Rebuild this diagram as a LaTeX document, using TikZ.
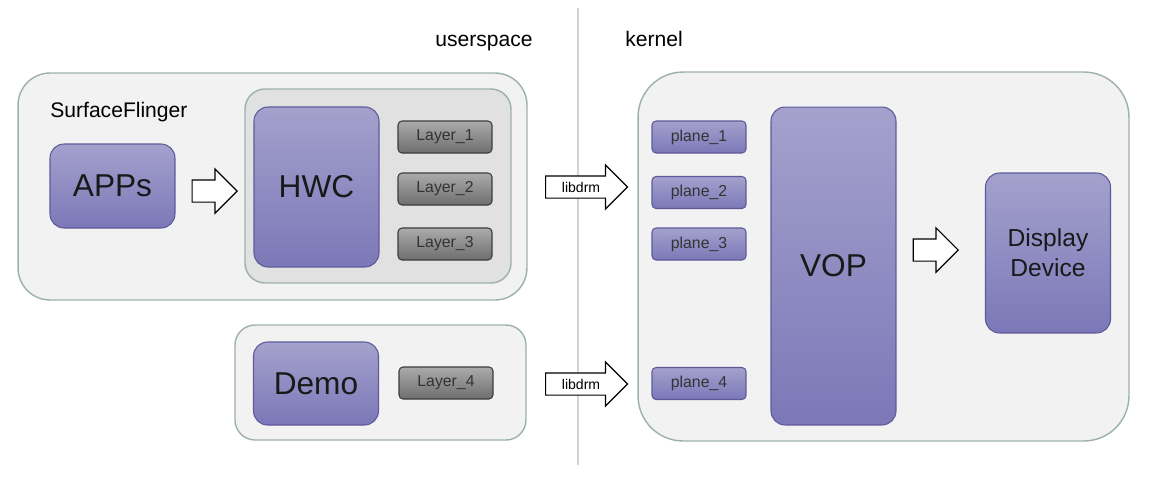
\documentclass[tikz,border=0pt]{standalone}
\usepackage{fontspec}
\setmainfont{Liberation Sans}
\usetikzlibrary{positioning, calc, shapes.arrows}

\definecolor{boxfill}{HTML}{F2F2F2}
\definecolor{boxline}{HTML}{9DB0AE}
\definecolor{groupfill}{HTML}{E1E1E1}
\definecolor{purptop}{HTML}{A4A1CD}
\definecolor{purpbot}{HTML}{7C78B8}
\definecolor{purpline}{HTML}{5E5A9A}
\definecolor{layertop}{HTML}{ABABAB}
\definecolor{layerbot}{HTML}{6E6E6E}
\definecolor{layerline}{HTML}{3C3C3C}
\definecolor{divline}{HTML}{D4D4D4}

\begin{document}
\begin{tikzpicture}[
    x=0.02cm, y=-0.02cm,
    % Container styles
    containerbox/.style={rectangle, draw=boxline, fill=boxfill, line width=0.8pt},
    groupbox/.style={rectangle, draw=boxline, fill=groupfill, line width=0.8pt, rounded corners=0.4cm},
    % Block styles
    unitbox/.style={rectangle, draw=purpline, top color=purptop, bottom color=purpbot, line width=0.6pt, rounded corners=0.28cm, minimum width=2.5cm, text=black!90, font=\fontsize{18}{20}\selectfont},
    layerbox/.style={rectangle, draw=layerline, top color=layertop, bottom color=layerbot, line width=0.6pt, rounded corners=0.08cm, minimum width=1.88cm, minimum height=0.64cm, inner sep=0pt, text=black!80, font=\fontsize{9}{10}\selectfont},
    planebox/.style={layerbox, draw=purpline, top color=purptop, bottom color=purpbot},
    % Arrow & label styles
    hollowarrow/.style={single arrow, anchor=tail, draw=black, fill=white, line width=0.7pt, single arrow head extend=0.22cm, minimum height=0.9cm, inner xsep=0pt, inner ysep=0.21cm, font=\fontsize{8}{9}\selectfont},
    drmarrow/.style={hollowarrow, minimum height=1.64cm, inner ysep=0.1cm, text height=0.22cm, text depth=0cm},
    titletext/.style={anchor=base west, inner sep=0pt, font=\fontsize{12}{14}\selectfont}
]
    \useasboundingbox (0,0) rectangle (1170,478);

    % Divider between userspace and kernel
    \coordinate (divtop) at (578,8);
    \coordinate (divbot) at (578,465);
    \draw [divline, line width=0.6pt] (divtop) -- (divbot);
    \node [titletext] (userlabel) at (435,46) {userspace};
    \node [titletext] (kernellabel) at (625,46) {kernel};

    % Containers
    \node [containerbox, rounded corners=0.64cm, minimum width=10.18cm, minimum height=4.54cm] (sf) at (272.5,186.5) {};
    \node [groupbox, minimum width=5.32cm, minimum height=3.88cm] (hwcgroup) at (378,186) {};
    \node [containerbox, rounded corners=0.4cm, minimum width=5.82cm, minimum height=2.3cm] (demogroup) at (380.5,382.5) {};
    \node [containerbox, rounded corners=0.9cm, minimum width=9.82cm, minimum height=7.38cm] (kernelbox) at (883.5,256.5) {};
    \node [titletext] (sflabel) at (50,117) {SurfaceFlinger};

    % Userspace blocks
    \node [unitbox, minimum height=1.68cm] (apps) at (112.5,186) {APPs};
    \node [unitbox, minimum height=3.2cm] (hwc) at (316.5,187) {HWC};
    \node [layerbox] (layer1) at (445,137) {Layer\_1};
    \node [layerbox] (layer2) at (445,189) {Layer\_2};
    \node [layerbox] (layer3) at (445,244) {Layer\_3};
    \node [unitbox, minimum height=1.66cm] (demo) at (316,383.5) {Demo};
    \node [layerbox] (layer4) at (446,383) {Layer\_4};

    % Kernel blocks
    \node [planebox] (plane1) at (699,137) {plane\_1};
    \node [planebox] (plane2) at (699,192.5) {plane\_2};
    \node [planebox] (plane3) at (699,244) {plane\_3};
    \node [planebox] (plane4) at (699,383.5) {plane\_4};
    \node [unitbox, minimum height=6.36cm] (vop) at (833.5,266) {VOP};
    \node [unitbox, minimum height=3.2cm, align=center, font=\fontsize{14}{17}\selectfont] (display) at (1048,253) {Display\\Device};

    % Flow arrows
    \node [hollowarrow] (toHwc) at ($(apps.east)+(16,5)$) {};
    \node [drmarrow] (drmTop) at (545,187) {libdrm};
    \node [drmarrow] (drmDemo) at (545,384) {libdrm};
    \node [hollowarrow] (toDisplay) at ($(vop.east)+(16,-16)$) {};

\end{tikzpicture}
\end{document}
